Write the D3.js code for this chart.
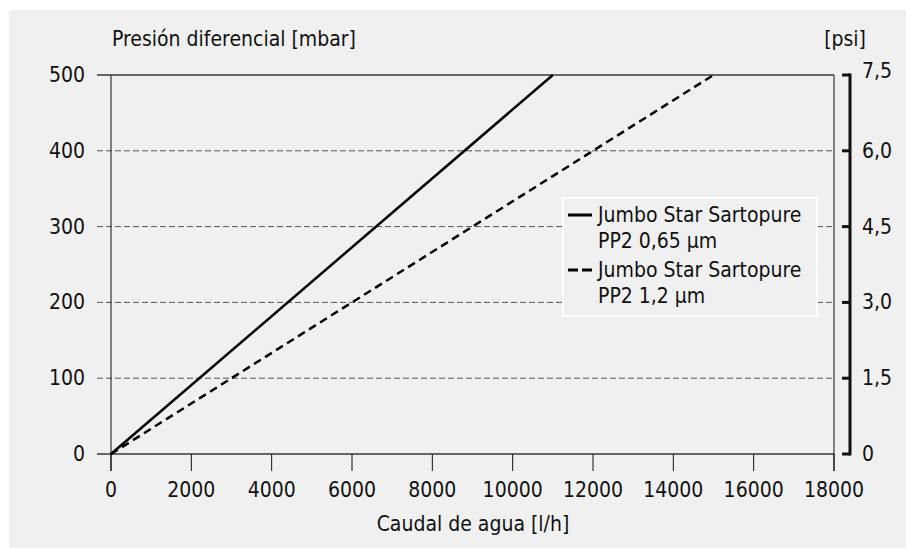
<!DOCTYPE html>
<html><head><meta charset="utf-8">
<script src="https://cdn.jsdelivr.net/npm/d3@7"></script>
<style>
html,body{margin:0;padding:0;background:#fff;}
svg text{font-family:"DejaVu Sans Condensed","DejaVu Sans",sans-serif;fill:#111;}
</style></head>
<body>
<svg id="c" width="906" height="548"></svg>
<script>
const flowTicks = [0,2000,4000,6000,8000,10000,12000,14000,16000,18000];
const mbarTicks = [0,100,200,300,400,500];
const psiTicks = ["0","1,5","3,0","4,5","6,0","7,5"];
const seriesNames = ["Jumbo Star Sartopure|PP2 0,65 µm","Jumbo Star Sartopure|PP2 1,2 µm"];
const flowSolid = [0,11000];
const dpSolid = [0,500];
const flowDashed = [0,15000];
const dpDashed = [0,500];

const FS = 21;
const svg = d3.select("#c");
svg.append("rect").attr("x",9).attr("y",10).attr("width",897).attr("height",538).attr("fill","#f0f0f0");

const x = d3.scaleLinear().domain([0,18000]).range([111,834]);
const y = d3.scaleLinear().domain([0,500]).range([454,75]);
const yp = d3.scaleLinear().domain([0,7.5]).range([454,75]);

// grid lines
mbarTicks.forEach(v=>{
  const mid = v>0 && v<500;
  svg.append("line").attr("x1",97).attr("x2",834).attr("y1",y(v)).attr("y2",y(v))
    .attr("stroke", mid ? "#555" : "#666").attr("stroke-width", mid?1:2)
    .attr("stroke-dasharray", mid ? "6,3" : null);
});
// left & right verticals
svg.append("line").attr("x1",x(0)).attr("x2",x(0)).attr("y1",75).attr("y2",471).attr("stroke","#111").attr("stroke-width",1);
svg.append("line").attr("x1",x(18000)).attr("x2",x(18000)).attr("y1",75).attr("y2",471).attr("stroke","#111").attr("stroke-width",1);
// x ticks
flowTicks.forEach(v=>{
  svg.append("line").attr("x1",x(v)).attr("x2",x(v)).attr("y1",454).attr("y2",471).attr("stroke","#111").attr("stroke-width",1);
  svg.append("text").attr("x",x(v)).attr("y",497).attr("text-anchor","middle").attr("font-size",FS).text(v);
});
// left labels
mbarTicks.forEach(v=>{
  svg.append("text").attr("x",85).attr("y",y(v)+7).attr("text-anchor","end").attr("font-size",FS).text(v);
});
// right axis bracket
svg.append("line").attr("x1",850).attr("x2",850).attr("y1",yp(7.5)-1.5).attr("y2",yp(0)+1.5).attr("stroke","#111").attr("stroke-width",3);
psiTicks.forEach((t,i)=>{
  const v = i*1.5;
  svg.append("line").attr("x1",842).attr("x2",850).attr("y1",yp(v)).attr("y2",yp(v)).attr("stroke","#111").attr("stroke-width",3);
  svg.append("text").attr("x",862).attr("y",yp(v)+(i===5?3:7)).attr("font-size",FS).text(t);
});
// titles
svg.append("text").attr("x",112).attr("y",46).attr("font-size",FS).text("Presión diferencial [mbar]");
svg.append("text").attr("x",866).attr("y",46).attr("text-anchor","end").attr("font-size",FS).text("[psi]");
svg.append("text").attr("x",473).attr("y",531).attr("text-anchor","middle").attr("font-size",FS).text("Caudal de agua [l/h]");

// series
const line = d3.line().x(d=>x(d[0])).y(d=>y(d[1]));
svg.append("path").attr("d",line(d3.zip(flowSolid,dpSolid))).attr("fill","none").attr("stroke","#000").attr("stroke-width",2.5);
svg.append("path").attr("d",line(d3.zip(flowDashed,dpDashed))).attr("fill","none").attr("stroke","#000").attr("stroke-width",2.5).attr("stroke-dasharray","8,5");

// legend
svg.append("rect").attr("x",563).attr("y",198).attr("width",254).attr("height",118).attr("fill","#f0f0f0").attr("stroke","#fff").attr("stroke-width",2);
seriesNames.forEach((n,i)=>{
  const y0 = 215 + i*55;
  svg.append("line").attr("x1",568).attr("x2",592).attr("y1",y0).attr("y2",y0).attr("stroke","#000").attr("stroke-width",3)
    .attr("stroke-dasharray", i===1 ? "10,4" : null);
  n.split("|").forEach((s,j)=>{
    svg.append("text").attr("x",598).attr("y",y0+7+j*26).attr("font-size",FS).text(s);
  });
});
</script>
</body></html>
